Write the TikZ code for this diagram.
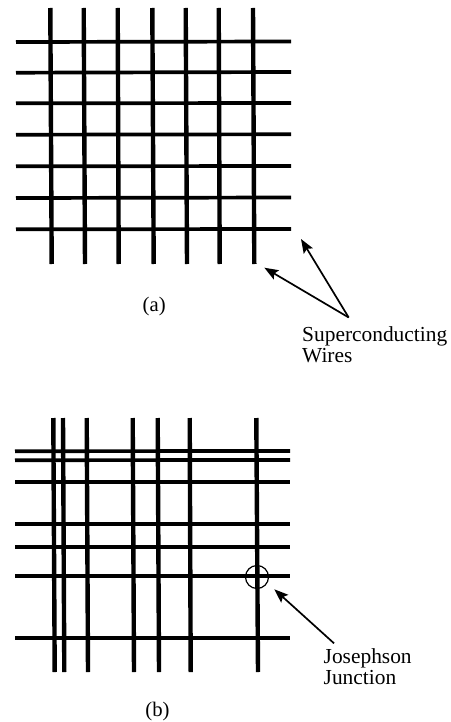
\documentclass[tikz,border=0pt]{standalone}
\usepackage{fontspec}
\setmainfont{Liberation Serif}
\usetikzlibrary{arrows.meta}
\tikzset{
  vwire/.style={line width=4.4pt,black},
  hwire/.style={line width=3.7pt,black},
  pointer/.style={line width=1.7pt,black,-{Stealth[length=14pt,width=10.5pt,inset=2.5pt]}},
  lbl/.style={inner sep=0pt,anchor=base west,font=\fontsize{21.4pt}{20.5pt}\selectfont},
  figlabel/.style={inner sep=0pt,anchor=base,font=\fontsize{20.7pt}{20pt}\selectfont},
  ring/.style={circle,draw,line width=1.2pt,minimum size=23pt,inner sep=0pt}
}
\begin{document}
\begin{tikzpicture}[x=1pt,y=-1pt]
\useasboundingbox (0,0) rectangle (450,722);
% (a) verticals
\foreach \t/\b in {50.3/51.7,83.7/85,117.7/118.7,152.3/153.7,185.7/187,218.7/219.7,253/254.3}
  \draw[vwire] (\t,8) -- (\b,264);
% (a) horizontals
\foreach \l/\r in {42/41.5,72.7/72,103.3/103,134.7/134.3,166.3/166,198/197.5,229.3/229}
  \draw[hwire] (16,\l) -- (291,\r);
% (b) verticals
\foreach \t/\b in {53.3/54.7,63/64.3,86.7/88,132.7/134,157.7/159,189.7/190.7,256.3/258}
  \draw[vwire] (\t,418) -- (\b,672);
% (b) horizontals
\foreach \l/\r in {451.2/451,460.2/460,481.8/481.8,524/524,546.7/546.7,576.2/576.2,638/638}
  \draw[hwire] (15,\l) -- (290,\r);
\node[ring] (jj) at (257,577) {};
% labels
\node[lbl] (sw) at (302,341.5) {Superconducting};
\node[lbl] (wi) at (302,362) {Wires};
\node[lbl] (jo) at (323.5,663) {Josephson};
\node[lbl] (ju) at (323.5,684) {Junction};
\node[figlabel] (ca) at (154.2,311.5) {(a)};
\node[figlabel] (cb) at (157.5,716.5) {(b)};
% pointers
\coordinate (swa) at (348.7,317.5);
\coordinate (swt1) at (301,239);
\coordinate (swt2) at (264.3,267.7);
\coordinate (joa) at (334,643.3);
\coordinate (jot) at (274.3,589.3);
\draw[pointer] (swa) -- (swt1);
\draw[pointer] (swa) -- (swt2);
\draw[pointer] (joa) -- (jot);
\end{tikzpicture}
\end{document}
